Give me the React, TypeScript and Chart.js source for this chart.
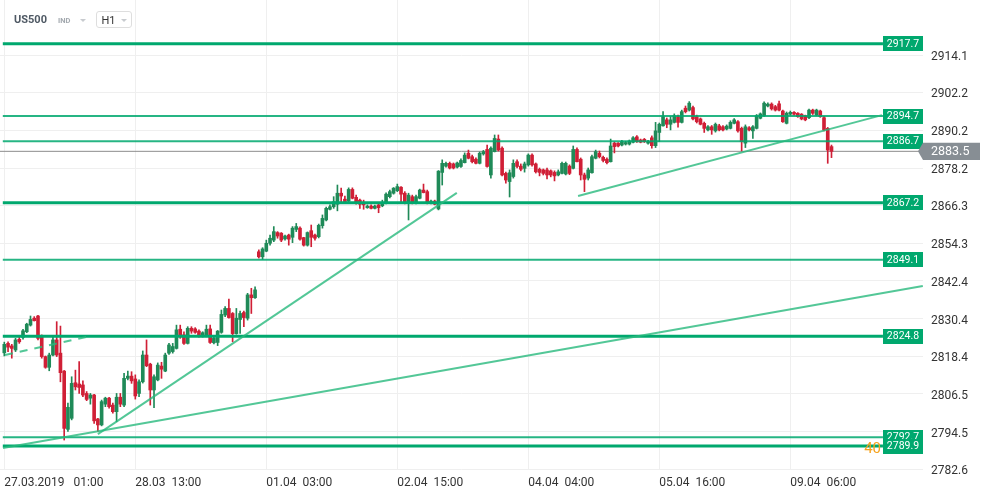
import React, { useEffect, useRef } from "react";
import { Chart, registerables } from "chart.js";

Chart.register(...registerables);

// Hourly candles [open, high, low, close]
const candlesMar27: number[][] = [
  [2819.5, 2822.9, 2818.5, 2822.2], [2822.5, 2823.0, 2819.9, 2821.3], [2821.7, 2822.2, 2817.8, 2820.9],
  [2820.4, 2824.1, 2819.9, 2823.6], [2823.8, 2824.6, 2822.5, 2823.0], [2824.4, 2827.0, 2823.8, 2826.5],
  [2826.2, 2828.9, 2825.9, 2828.6], [2828.3, 2831.2, 2828.0, 2830.1], [2830.5, 2831.0, 2829.6, 2829.7],
  [2831.2, 2831.4, 2823.6, 2824.1], [2824.8, 2825.2, 2817.8, 2818.3], [2818.3, 2818.5, 2814.6, 2814.9],
  [2814.9, 2819.4, 2813.8, 2818.8], [2818.8, 2824.6, 2818.5, 2823.6], [2823.6, 2829.4, 2818.3, 2818.8],
  [2819.4, 2828.0, 2810.3, 2813.2], [2813.7, 2813.9, 2791.8, 2795.5], [2795.2, 2803.5, 2794.5, 2802.2],
  [2798.7, 2811.9, 2798.2, 2809.8], [2810.0, 2814.0, 2807.7, 2808.7], [2809.6, 2816.7, 2806.6, 2808.5],
  [2809.3, 2810.6, 2805.6, 2806.1], [2806.6, 2807.2, 2804.3, 2804.7], [2805.1, 2806.6, 2803.2, 2806.1],
  [2806.1, 2806.3, 2797.1, 2797.9], [2798.5, 2798.7, 2794.5, 2796.6], [2796.6, 2804.5, 2796.3, 2804.0],
  [2803.2, 2805.4, 2802.4, 2805.1], [2805.1, 2805.4, 2801.9, 2802.4], [2802.9, 2803.5, 2800.3, 2800.8],
  [2800.8, 2806.6, 2797.6, 2805.4], [2805.4, 2806.6, 2802.4, 2803.2], [2802.9, 2813.0, 2802.4, 2811.4],
  [2811.4, 2813.7, 2810.9, 2812.1], [2812.1, 2813.5, 2809.8, 2810.6],
];
const candlesMar28: number[][] = [
  [2811.2, 2812.5, 2804.8, 2805.8], [2806.6, 2810.9, 2805.6, 2810.3], [2810.3, 2820.1, 2809.9, 2818.8],
  [2818.8, 2823.6, 2815.1, 2815.4], [2815.9, 2816.2, 2802.9, 2807.7], [2807.7, 2812.5, 2802.1, 2811.9],
  [2810.9, 2816.3, 2810.6, 2815.6], [2815.3, 2816.5, 2811.4, 2814.3], [2813.7, 2819.4, 2813.5, 2818.8],
  [2819.4, 2822.5, 2819.0, 2822.0], [2819.9, 2822.5, 2819.4, 2821.5], [2820.9, 2828.3, 2820.7, 2826.8],
  [2827.0, 2828.3, 2824.1, 2824.6], [2825.2, 2826.2, 2822.2, 2822.5], [2822.5, 2827.8, 2822.3, 2827.3],
  [2827.3, 2827.8, 2825.7, 2826.4], [2827.1, 2827.5, 2825.7, 2826.0], [2826.4, 2826.8, 2824.5, 2824.8],
  [2824.8, 2826.2, 2824.5, 2825.9], [2825.2, 2828.3, 2824.6, 2827.0], [2827.1, 2828.3, 2822.5, 2822.8],
  [2822.7, 2824.5, 2822.3, 2824.1], [2822.8, 2826.6, 2821.8, 2826.4], [2826.0, 2833.1, 2825.7, 2831.7],
  [2831.5, 2834.2, 2831.0, 2833.6], [2833.6, 2836.6, 2830.5, 2830.7], [2832.0, 2832.3, 2823.0, 2825.6],
  [2825.6, 2833.6, 2825.4, 2830.5], [2830.1, 2832.8, 2825.7, 2832.0], [2832.3, 2832.8, 2827.8, 2830.7],
  [2830.5, 2838.4, 2829.9, 2837.9], [2837.9, 2840.0, 2832.0, 2837.0], [2837.0, 2840.5, 2836.8, 2839.5],
];
const candlesApr01: number[][] = [
  [2851.6, 2852.2, 2849.6, 2850.0], [2850.0, 2852.9, 2849.2, 2852.5], [2851.8, 2855.3, 2851.6, 2854.3],
  [2854.3, 2856.9, 2853.7, 2855.9], [2855.3, 2859.6, 2854.8, 2858.0], [2857.7, 2858.0, 2855.9, 2856.6],
  [2857.5, 2857.7, 2854.8, 2855.3], [2855.7, 2856.9, 2855.3, 2856.6], [2856.9, 2857.2, 2853.7, 2855.6],
  [2856.2, 2859.6, 2854.5, 2859.1], [2858.7, 2860.6, 2858.0, 2859.6], [2859.1, 2859.5, 2855.3, 2855.6],
  [2856.1, 2856.2, 2853.4, 2853.7], [2853.7, 2857.9, 2853.4, 2857.7], [2858.3, 2860.1, 2853.2, 2856.2],
  [2856.9, 2857.2, 2855.3, 2855.9], [2856.4, 2860.4, 2856.0, 2860.0], [2859.9, 2863.3, 2859.1, 2862.2],
  [2861.7, 2865.8, 2861.4, 2865.4], [2865.1, 2866.5, 2864.9, 2865.9], [2865.9, 2869.1, 2865.4, 2867.5],
  [2866.7, 2872.8, 2864.6, 2870.2], [2870.2, 2871.8, 2867.0, 2869.3], [2868.3, 2869.3, 2867.0, 2867.5],
  [2867.7, 2871.9, 2867.4, 2871.4], [2871.4, 2871.9, 2868.4, 2868.6], [2868.9, 2869.6, 2866.7, 2867.5],
  [2868.0, 2868.3, 2865.4, 2866.7], [2867.2, 2868.0, 2865.1, 2866.5], [2865.6, 2866.5, 2865.4, 2866.1],
  [2866.1, 2866.5, 2865.2, 2865.4], [2865.4, 2866.4, 2865.2, 2866.1], [2866.5, 2867.0, 2864.0, 2865.6],
  [2866.2, 2868.0, 2865.9, 2867.0], [2867.0, 2870.3, 2866.8, 2869.9], [2869.1, 2871.2, 2868.7, 2870.7],
  [2870.2, 2872.0, 2869.9, 2871.8],
];
const candlesApr02: number[][] = [
  [2871.0, 2873.1, 2870.7, 2872.3], [2872.1, 2872.3, 2867.0, 2869.9], [2870.2, 2870.7, 2866.8, 2867.0],
  [2867.5, 2870.2, 2861.7, 2869.6], [2869.1, 2869.6, 2866.8, 2867.0], [2867.0, 2869.6, 2866.8, 2869.1],
  [2868.6, 2871.5, 2868.4, 2871.2], [2871.2, 2873.1, 2870.3, 2870.4], [2870.7, 2871.2, 2866.8, 2867.0],
  [2867.0, 2868.0, 2866.8, 2867.7], [2867.7, 2868.0, 2866.5, 2866.7], [2865.2, 2877.4, 2864.9, 2877.2],
  [2876.8, 2880.8, 2872.8, 2879.7], [2878.8, 2880.1, 2878.5, 2879.7], [2879.7, 2880.1, 2877.9, 2878.2],
  [2879.5, 2879.8, 2877.9, 2878.2], [2878.5, 2880.1, 2878.2, 2879.8], [2878.7, 2881.1, 2878.4, 2880.6],
  [2879.9, 2883.0, 2879.8, 2882.3], [2882.9, 2883.9, 2881.1, 2881.3], [2881.8, 2882.3, 2879.8, 2880.2],
  [2881.0, 2881.4, 2879.5, 2879.7], [2879.7, 2883.3, 2879.5, 2882.9], [2882.7, 2883.8, 2882.3, 2883.4],
  [2884.1, 2885.5, 2878.5, 2878.7], [2876.0, 2884.9, 2875.0, 2884.5], [2883.4, 2888.7, 2883.3, 2887.6],
  [2887.4, 2888.7, 2883.6, 2883.9], [2884.5, 2884.9, 2875.7, 2876.0], [2876.5, 2876.9, 2873.4, 2874.4],
  [2873.9, 2877.6, 2869.0, 2876.7], [2875.5, 2880.8, 2875.0, 2879.7], [2880.2, 2880.8, 2878.2, 2878.7],
  [2878.8, 2879.5, 2877.3, 2877.8], [2878.1, 2880.1, 2876.9, 2879.5],
];
const candlesApr04: number[][] = [
  [2879.2, 2882.7, 2878.8, 2882.3], [2882.3, 2882.7, 2878.8, 2879.2], [2879.5, 2879.8, 2876.6, 2877.0],
  [2877.8, 2878.2, 2875.7, 2876.8], [2877.6, 2877.9, 2876.0, 2876.5], [2877.6, 2878.2, 2874.7, 2876.0],
  [2877.3, 2877.6, 2875.4, 2876.0], [2876.8, 2877.3, 2874.1, 2875.7], [2876.0, 2877.6, 2875.7, 2877.0],
  [2876.5, 2880.1, 2876.3, 2879.7], [2876.3, 2880.1, 2876.0, 2879.7], [2878.8, 2879.2, 2876.1, 2876.5],
  [2878.1, 2885.2, 2877.9, 2884.1], [2884.1, 2884.6, 2880.1, 2880.2], [2881.0, 2881.4, 2874.4, 2876.0],
  [2876.0, 2876.6, 2870.7, 2874.6], [2875.0, 2878.2, 2874.4, 2877.6], [2876.7, 2882.3, 2876.6, 2881.8],
  [2881.3, 2883.9, 2881.1, 2883.4], [2882.9, 2883.6, 2881.4, 2881.8], [2881.6, 2882.0, 2880.1, 2880.6],
  [2881.0, 2881.4, 2879.5, 2879.9], [2880.2, 2887.4, 2880.1, 2885.2], [2886.1, 2886.5, 2883.0, 2885.0],
  [2886.1, 2886.3, 2884.9, 2885.2], [2885.5, 2887.0, 2885.2, 2886.6], [2885.8, 2886.7, 2885.5, 2886.3],
  [2885.8, 2887.1, 2885.5, 2886.8], [2886.4, 2888.2, 2886.2, 2887.8], [2888.1, 2888.5, 2886.3, 2886.6],
  [2887.1, 2887.4, 2886.2, 2886.4], [2887.3, 2887.6, 2886.3, 2886.6], [2886.1, 2887.0, 2885.8, 2886.6],
  [2887.8, 2888.4, 2884.5, 2885.3], [2885.3, 2892.7, 2884.7, 2890.0],
];
const candlesApr05: number[][] = [
  [2889.5, 2892.5, 2886.6, 2892.1], [2891.6, 2896.1, 2891.5, 2894.5], [2893.5, 2894.1, 2891.0, 2892.1],
  [2892.1, 2894.5, 2890.3, 2893.5], [2892.7, 2895.4, 2892.5, 2894.8], [2894.5, 2895.0, 2891.2, 2892.7],
  [2892.7, 2896.6, 2892.5, 2896.1], [2897.2, 2897.9, 2895.7, 2896.1], [2896.6, 2899.3, 2896.3, 2898.8],
  [2897.4, 2897.9, 2893.5, 2893.8], [2894.5, 2895.0, 2892.5, 2892.9], [2893.8, 2894.1, 2891.9, 2892.1],
  [2892.4, 2892.8, 2889.5, 2890.8], [2890.3, 2891.7, 2890.0, 2891.3], [2891.3, 2891.7, 2888.9, 2890.3],
  [2890.0, 2892.5, 2889.6, 2892.1], [2891.6, 2892.1, 2890.0, 2890.3], [2891.3, 2891.7, 2890.0, 2890.3],
  [2890.6, 2891.9, 2890.3, 2891.5], [2890.8, 2893.2, 2890.6, 2892.7], [2892.4, 2893.9, 2892.2, 2893.5],
  [2892.9, 2893.3, 2889.6, 2890.0], [2890.8, 2891.2, 2883.6, 2886.6], [2886.1, 2891.9, 2884.7, 2891.3],
  [2891.0, 2891.4, 2890.0, 2890.3], [2890.0, 2891.7, 2887.6, 2891.3], [2890.8, 2895.2, 2890.6, 2894.8],
  [2894.0, 2895.7, 2893.8, 2895.4], [2894.8, 2899.2, 2894.6, 2898.8], [2897.9, 2898.9, 2897.6, 2898.5],
  [2898.5, 2898.9, 2896.6, 2897.0], [2897.7, 2898.1, 2896.3, 2896.6], [2898.6, 2899.5, 2896.3, 2896.6],
  [2896.3, 2896.6, 2892.7, 2892.9], [2892.4, 2896.0, 2892.2, 2895.6], [2895.3, 2896.3, 2895.0, 2895.9],
  [2895.9, 2896.1, 2895.0, 2895.3], [2895.6, 2895.8, 2894.3, 2894.5], [2895.3, 2895.5, 2893.5, 2893.8],
  [2894.8, 2895.0, 2893.2, 2893.5], [2894.2, 2896.9, 2893.9, 2896.6], [2896.6, 2896.9, 2895.2, 2895.6],
  [2895.0, 2896.9, 2894.8, 2896.6], [2896.3, 2896.6, 2894.3, 2894.5], [2894.2, 2894.6, 2890.0, 2890.3],
  [2890.8, 2891.1, 2879.7, 2883.9], [2885.0, 2885.5, 2881.5, 2883.5],
];

const xTickIndex = [0, 35, 70, 105, 140, 175, 210];
const xTickLabels = [
  "27.03.2019   01:00", "28.03  13:00", "01.04  03:00", "02.04  15:00",
  "04.04  04:00", "05.04  16:00", "09.04  06:00",
];
const yTickValues = [2782.6, 2794.5, 2806.5, 2818.4, 2830.4, 2842.4, 2854.3, 2866.3, 2878.2, 2890.2, 2902.2, 2914.1];

const levelValues = [2917.7, 2894.7, 2886.7, 2867.2, 2849.1, 2824.8, 2792.7, 2789.9];
const levelStrong = [true, false, false, true, false, true, false, true];

const trendStartX = [-0.35, 25.0, 153.3, 0.2];
const trendStartY = [2789.3, 2793.7, 2869.3, 2818.8];
const trendEndX = [245.4, 120.9, 234.5, 22.9];
const trendEndY = [2840.7, 2870.3, 2895.0, 2824.8];
const trendDashed = [false, false, false, true];

const lastPrice = 2883.5;
const timerText = "40";

const X_MIN = -1.149;
const X_MAX = 245.45;
const Y_MIN = 2782.6;
const Y_MAX = 2931.57;
const LEVEL_START_X = -0.4;
const LEVEL_END_X = 234.75;

export default function App() {
  const ref = useRef<HTMLCanvasElement>(null);

  useEffect(() => {
    const canvas = ref.current;
    if (!canvas) return;
    Chart.defaults.font.family = "Roboto, sans-serif";

    const candles = [
      ...candlesMar27, ...candlesMar28, ...candlesApr01,
      ...candlesApr02, ...candlesApr04, ...candlesApr05,
    ];
    const green = "#1f8a58";
    const red = "#d01f36";
    const colors = candles.map((c) => (c[3] >= c[0] ? green : red));
    const wickData = candles.map((c, i) => ({ x: i, y: [c[2], c[1]] }));
    const bodyData = candles.map((c, i) => ({ x: i, y: [Math.min(c[0], c[3]), Math.max(c[0], c[3])] }));

    const datasets: any[] = [];
    datasets.push({
      type: "line",
      data: [{ x: X_MIN, y: lastPrice }, { x: X_MAX, y: lastPrice }],
      borderColor: "#8d8d8d", borderWidth: 1, pointRadius: 0, fill: false, order: 30,
    });
    datasets.push({
      type: "bar", data: wickData, backgroundColor: colors, barThickness: 1,
      grouped: false, borderWidth: 0, order: 21,
    });
    datasets.push({
      type: "bar", data: bodyData, backgroundColor: colors, barThickness: 3,
      grouped: false, borderWidth: 0, order: 20,
    });
    levelValues.forEach((lv, i) => {
      datasets.push({
        type: "line",
        data: [{ x: LEVEL_START_X, y: lv }, { x: LEVEL_END_X, y: lv }],
        borderColor: levelStrong[i] ? "#00a86e" : "rgba(0,168,110,0.85)",
        borderWidth: levelStrong[i] ? 3 : 2,
        pointRadius: 0, fill: false, order: 5,
      });
    });
    trendStartX.forEach((sx, i) => {
      datasets.push({
        type: "line",
        data: [{ x: sx, y: trendStartY[i] }, { x: trendEndX[i], y: trendEndY[i] }],
        borderColor: "rgba(40,185,125,0.8)",
        borderWidth: 2,
        borderDash: trendDashed[i] ? [8, 7] : [],
        pointRadius: 0, fill: false, order: 4,
      });
    });

    const overlay = {
      id: "levelOverlay",
      afterDatasetsDraw(chart: any) {
        const { ctx, chartArea } = chart;
        const xs = chart.scales.x;
        const ys = chart.scales.y;
        ctx.save();
        const bx = Math.round(xs.getPixelForValue(LEVEL_END_X));
        levelValues.forEach((lv) => {
          const py = ys.getPixelForValue(lv);
          ctx.fillStyle = "#00a86e";
          ctx.fillRect(bx, Math.round(py - 7.5), 40, 15);
          ctx.fillStyle = "#ffffff";
          ctx.font = "10.5px Roboto";
          ctx.textAlign = "center";
          ctx.textBaseline = "middle";
          ctx.fillText(lv.toFixed(1), bx + 20, Math.round(py) + 0.5);
        });
        const ty = ys.getPixelForValue(levelValues[levelValues.length - 1]);
        ctx.fillStyle = "#f5a21c";
        ctx.font = "15px Roboto";
        ctx.textAlign = "right";
        ctx.textBaseline = "middle";
        ctx.fillText(timerText, bx - 2, ty + 3);

        const cy = ys.getPixelForValue(lastPrice);
        const r = chartArea.right;
        ctx.fillStyle = "#878e94";
        ctx.beginPath();
        ctx.moveTo(r - 5, cy);
        ctx.lineTo(r, cy - 8.7);
        ctx.lineTo(r + 57, cy - 8.7);
        ctx.lineTo(r + 57, cy + 8.7);
        ctx.lineTo(r, cy + 8.7);
        ctx.closePath();
        ctx.fill();
        ctx.fillStyle = "#ffffff";
        ctx.font = "12.5px Roboto";
        ctx.textAlign = "left";
        ctx.fillText(lastPrice.toFixed(1), r + 8, cy + 1);
        ctx.restore();
      },
    };

    const chart = new Chart(canvas, {
      type: "bar",
      data: { datasets },
      options: {
        responsive: false,
        maintainAspectRatio: false,
        animation: false,
        events: [],
        layout: { padding: 0 },
        plugins: { legend: { display: false }, tooltip: { enabled: false } },
        scales: {
          x: {
            type: "linear",
            min: X_MIN,
            max: X_MAX,
            offset: false,
            grid: { color: "#efefef", drawTicks: false, lineWidth: 1, offset: false },
            border: { display: false },
            ticks: {
              align: "start",
              padding: 7,
              autoSkip: false,
              maxRotation: 0,
              color: "#333333",
              font: { size: 12, family: "Roboto" },
              callback: (v: any) => {
                const k = xTickIndex.indexOf(Number(v));
                return k >= 0 ? xTickLabels[k] : "";
              },
            },
            afterBuildTicks: (s: any) => {
              s.ticks = xTickIndex.map((v) => ({ value: v }));
            },
            afterFit: (s: any) => {
              s.height = 26;
              s.paddingLeft = 0;
              s.paddingRight = 0;
            },
          } as any,
          y: {
            type: "linear",
            position: "right",
            min: Y_MIN,
            max: Y_MAX,
            grid: { color: "#efefef", drawTicks: false, lineWidth: 1, offset: false },
            border: { display: false },
            ticks: {
              padding: 8,
              labelOffset: 2,
              autoSkip: false,
              color: "#333333",
              font: { size: 12, family: "Roboto" },
              callback: (v: any) => Number(v).toFixed(1),
            },
            afterBuildTicks: (s: any) => {
              s.ticks = yTickValues.map((v) => ({ value: v }));
            },
            afterFit: (s: any) => {
              s.width = 68;
              s.paddingTop = 0;
              s.paddingBottom = 0;
            },
          } as any,
        },
      },
      plugins: [overlay],
    } as any);

    return () => chart.destroy();
  }, []);

  return (
    <div style={{ position: "absolute", left: 0, top: 0, width: 991, height: 495, fontFamily: "Roboto, sans-serif", background: "#fff" }}>
      <canvas ref={ref} width={991} height={495} style={{ display: "block", width: 991, height: 495 }} />
      <div style={{ position: "absolute", left: 14, top: 13, fontSize: 11, lineHeight: "13px", fontWeight: 700, color: "#4f5964" }}>US500</div>
      <div style={{ position: "absolute", left: 58, top: 15.6, fontSize: 7.5, lineHeight: "9px", fontWeight: 700, color: "#a3a9af" }}>IND</div>
      <div style={{ position: "absolute", left: 80, top: 18.5, width: 0, height: 0, borderLeft: "3px solid transparent", borderRight: "3px solid transparent", borderTop: "3px solid #c8cbcf" }} />
      <div style={{ position: "absolute", left: 96, top: 11, width: 34, height: 15, border: "1px solid #dedede", borderRadius: 3, background: "#fff" }} />
      <div style={{ position: "absolute", left: 101.5, top: 14, fontSize: 11, lineHeight: "13px", color: "#333" }}>H1</div>
      <div style={{ position: "absolute", left: 121, top: 19, width: 0, height: 0, borderLeft: "3.5px solid transparent", borderRight: "3.5px solid transparent", borderTop: "3px solid #c8cbcf" }} />
    </div>
  );
}
